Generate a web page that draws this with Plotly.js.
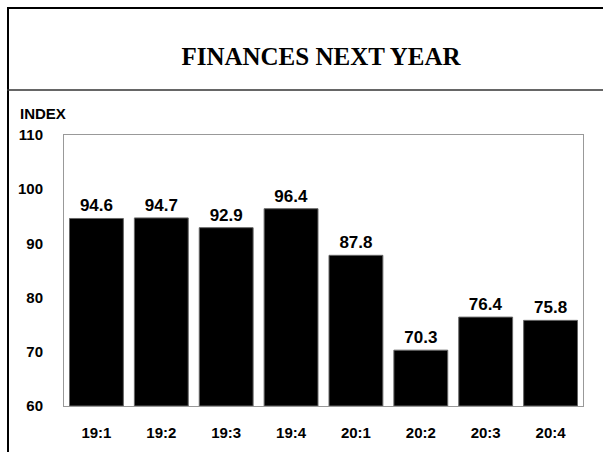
<!DOCTYPE html>
<html>
<head>
<meta charset="utf-8">
<script src="https://cdn.plot.ly/plotly-3.0.1.min.js"></script>
<style>html,body{margin:0;padding:0;background:#fff;}#chart{width:603px;height:452px;}</style>
</head>
<body>
<div id="chart"></div>
<script>
const quarters = ["19:1","19:2","19:3","19:4","20:1","20:2","20:3","20:4"];
const indexValues = [94.6, 94.7, 92.9, 96.4, 87.8, 70.3, 76.4, 75.8];
const yTicks = [60, 70, 80, 90, 100, 110];

const W = 603, H = 452, L = 64, R = 20, T = 135, B = 46;
const pw = W - L - R, ph = H - T - B;
const px = x => (x - L) / pw;
const py = y => (H - B - y) / ph;

const sans = 'Arial, "Liberation Sans", sans-serif';
const valueFont = {family: sans, size: 17, color: '#000', weight: 'bold'};
const tickFont = {family: sans, size: 15, color: '#000', weight: 'bold'};

const trace = {
  type: 'bar',
  x: quarters,
  y: indexValues.map(v => v - 60),
  base: 60,
  marker: {color: '#000', line: {color: '#666', width: 1}},
  text: indexValues.map(v => v.toFixed(1)),
  textposition: 'outside',
  textfont: valueFont,
  cliponaxis: false,
  hoverinfo: 'skip'
};

const layout = {
  width: W, height: H,
  margin: {l: L, r: R, t: T, b: B},
  paper_bgcolor: '#fff', plot_bgcolor: '#fff',
  showlegend: false,
  bargap: 0.17,
  title: {text: 'FINANCES NEXT YEAR', x: 321 / W, xanchor: 'center', y: 1 - 56/H, yanchor: 'middle', yref: 'container',
          font: {family: '"Liberation Serif", "Times New Roman", serif', size: 25, color: '#000', weight: 'bold'}},
  xaxis: {type: 'category', showgrid: false, ticks: '', tickfont: tickFont, ticklabelstandoff: 13,
          showline: true, mirror: true, linecolor: '#999', linewidth: 1, zeroline: false},
  yaxis: {range: [60, 110], tickvals: yTicks, ticktext: yTicks.map(String), showgrid: false, ticks: '',
          tickfont: tickFont, ticklabelstandoff: 17, showline: true, mirror: true, linecolor: '#999', linewidth: 1, zeroline: false},
  annotations: [
    {text: 'INDEX', xref: 'paper', yref: 'paper', x: px(18), y: py(114), xanchor: 'left', yanchor: 'middle',
     showarrow: false, font: tickFont}
  ],
  shapes: [
    {type: 'line', xref: 'paper', yref: 'paper', x0: px(8), x1: px(8), y0: py(8), y1: py(460), line: {color: '#000', width: 2}},
    {type: 'line', xref: 'paper', yref: 'paper', x0: px(7), x1: px(610), y0: py(8), y1: py(8), line: {color: '#000', width: 2}},
    {type: 'line', xref: 'paper', yref: 'paper', x0: px(7), x1: px(610), y0: py(90), y1: py(90), line: {color: '#333', width: 1.5}}
  ]
};

Plotly.newPlot('chart', [trace], layout, {displayModeBar: false, staticPlot: true});
</script>
</body>
</html>
